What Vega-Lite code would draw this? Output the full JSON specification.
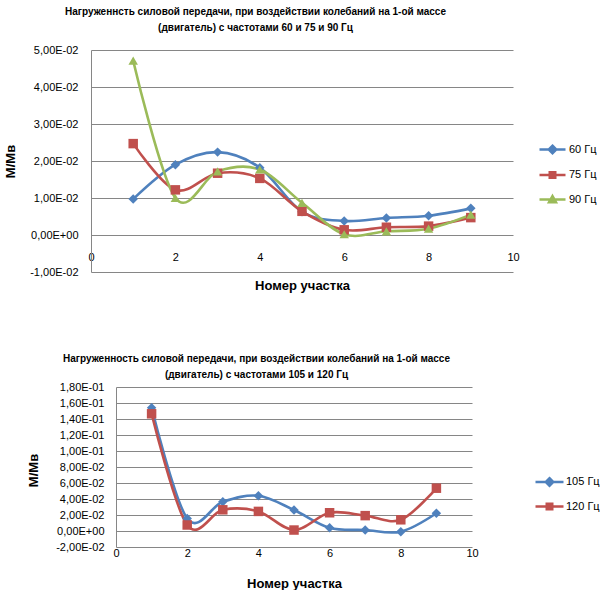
{
  "$schema": "https://vega.github.io/schema/vega-lite/v6.json",
  "background": "white",
  "padding": {"left": 4, "top": 7, "right": 0, "bottom": 0},
  "config": {
    "view": {"stroke": null},
    "font": "Liberation Sans",
    "axis": {
      "labelFont": "Liberation Sans",
      "labelFontSize": 11,
      "labelColor": "#000000",
      "titleFont": "Liberation Sans",
      "titleFontSize": 13,
      "titleFontWeight": "bold",
      "titleColor": "#000000",
      "ticks": false,
      "gridColor": "#868686",
      "gridWidth": 1,
      "gridOpacity": 1,
      "domainColor": "#868686",
      "domainWidth": 1,
      "labelFlush": false
    },
    "legend": {
      "labelFont": "Liberation Sans",
      "labelFontSize": 11,
      "labelColor": "#000000",
      "padding": 0
    },
    "title": {
      "font": "Liberation Sans",
      "fontSize": 10,
      "fontWeight": "bold",
      "color": "#000000",
      "lineHeight": 15.5,
      "anchor": "middle"
    }
  },
  "datasets": {
    "top": [
      {"n": 1, "s": "60 Гц", "v": 0.0097}, {"n": 2, "s": "60 Гц", "v": 0.0190}, {"n": 3, "s": "60 Гц", "v": 0.0224},
      {"n": 4, "s": "60 Гц", "v": 0.0182}, {"n": 5, "s": "60 Гц", "v": 0.0063}, {"n": 6, "s": "60 Гц", "v": 0.0038},
      {"n": 7, "s": "60 Гц", "v": 0.0046}, {"n": 8, "s": "60 Гц", "v": 0.0052}, {"n": 9, "s": "60 Гц", "v": 0.0072},
      {"n": 1, "s": "75 Гц", "v": 0.0247}, {"n": 2, "s": "75 Гц", "v": 0.0122}, {"n": 3, "s": "75 Гц", "v": 0.0167},
      {"n": 4, "s": "75 Гц", "v": 0.0153}, {"n": 5, "s": "75 Гц", "v": 0.0064}, {"n": 6, "s": "75 Гц", "v": 0.0014},
      {"n": 7, "s": "75 Гц", "v": 0.0021}, {"n": 8, "s": "75 Гц", "v": 0.0024}, {"n": 9, "s": "75 Гц", "v": 0.0047},
      {"n": 1, "s": "90 Гц", "v": 0.0471}, {"n": 2, "s": "90 Гц", "v": 0.0100}, {"n": 3, "s": "90 Гц", "v": 0.0172},
      {"n": 4, "s": "90 Гц", "v": 0.0177}, {"n": 5, "s": "90 Гц", "v": 0.0087}, {"n": 6, "s": "90 Гц", "v": 0.0002},
      {"n": 7, "s": "90 Гц", "v": 0.0010}, {"n": 8, "s": "90 Гц", "v": 0.0017}, {"n": 9, "s": "90 Гц", "v": 0.0055}
    ],
    "bottom": [
      {"n": 1, "s": "105 Гц", "v": 0.1540}, {"n": 2, "s": "105 Гц", "v": 0.0157}, {"n": 3, "s": "105 Гц", "v": 0.0365},
      {"n": 4, "s": "105 Гц", "v": 0.0440}, {"n": 5, "s": "105 Гц", "v": 0.0262}, {"n": 6, "s": "105 Гц", "v": 0.0040},
      {"n": 7, "s": "105 Гц", "v": 0.0012}, {"n": 8, "s": "105 Гц", "v": -0.0008}, {"n": 9, "s": "105 Гц", "v": 0.0222},
      {"n": 1, "s": "120 Гц", "v": 0.1465}, {"n": 2, "s": "120 Гц", "v": 0.0075}, {"n": 3, "s": "120 Гц", "v": 0.0265},
      {"n": 4, "s": "120 Гц", "v": 0.0245}, {"n": 5, "s": "120 Гц", "v": 0.0012}, {"n": 6, "s": "120 Гц", "v": 0.0228},
      {"n": 7, "s": "120 Гц", "v": 0.0192}, {"n": 8, "s": "120 Гц", "v": 0.0140}, {"n": 9, "s": "120 Гц", "v": 0.0535}
    ]
  },
  "columns": 1,
  "align": "all",
  "center": true,
  "spacing": 62,
  "resolve": {"scale": {"color": "independent"}},
  "concat": [
    {
      "width": 422,
      "height": 222,
      "title": {
        "text": ["Нагруженнсть силовой передачи, при воздействии  колебаний на 1-ой массе", "(двигатель) с частотами  60 и 75 и 90 Гц"],
        "frame": "group",
        "dx": -46.5,
        "offset": 11.5
      },
      "data": {"name": "top"},
      "encoding": {
        "x": {
          "field": "n", "type": "quantitative",
          "scale": {"domain": [0, 10], "nice": false},
          "axis": {"values": [0, 2, 4, 6, 8, 10], "title": "Номер участка", "domain": false, "grid": false,
                   "labelPadding": -21, "titleY": 13, "titleBaseline": "middle"}
        },
        "y": {
          "field": "v", "type": "quantitative",
          "scale": {"domain": [-0.01, 0.05], "nice": false, "zero": false},
          "axis": {
            "values": [-0.01, 0, 0.01, 0.02, 0.03, 0.04, 0.05],
            "labelExpr": "datum.value == 0 ? '0,00E+00' : (datum.value < 0 ? '-' : '') + replace(format(abs(datum.value) / pow(10, floor(log(abs(datum.value)) / LN10 + 0.000000001)), '.2f'), '.', ',') + 'E' + (floor(log(abs(datum.value)) / LN10 + 0.000000001) < 0 ? '-' : '+') + (abs(floor(log(abs(datum.value)) / LN10 + 0.000000001)) < 10 ? '0' : '') + abs(floor(log(abs(datum.value)) / LN10 + 0.000000001))",
            "title": "M/Mв", "grid": true, "labelPadding": 13,
            "titleAngle": 270, "titleX": -73.5, "titleY": 111, "titleBaseline": "bottom", "titleAlign": "center"
          }
        },
        "color": {
          "field": "s", "type": "nominal",
          "scale": {"domain": ["60 Гц", "75 Гц", "90 Гц"], "range": ["#4F81BD", "#C0504D", "#9BBB59"]},
          "legend": {
            "title": null, "orient": "none", "legendX": 455, "legendY": 93,
            "symbolSize": 100, "labelOffset": 10, "rowPadding": 7.5,
            "encode": {
              "symbols": {
                "update": {
                  "shape": {"signal": "datum.value === '60 Гц' ? 'M-2.6,0H2.6M0,-0.75L0.75,0L0,0.75L-0.75,0ZM13.4,0' : datum.value === '75 Гц' ? 'M-2.6,0H2.6M-0.55,-0.55H0.55V0.55H-0.55ZM13.4,0' : 'M-2.6,0H2.6M0,-0.7L0.7,0.55H-0.7ZM13.4,0'"},
                  "fill": {"signal": "datum.value === '60 Гц' ? '#4F81BD' : datum.value === '75 Гц' ? '#C0504D' : '#9BBB59'"},
                  "stroke": {"signal": "datum.value === '60 Гц' ? '#4F81BD' : datum.value === '75 Гц' ? '#C0504D' : '#9BBB59'"},
                  "strokeWidth": {"value": 2.5},
                  "opacity": {"value": 1},
                  "fillOpacity": {"value": 1},
                  "strokeOpacity": {"value": 1}
                }
              }
            }
          }
        }
      },
      "layer": [
        {"mark": {"type": "line", "interpolate": "cardinal", "strokeWidth": 2.6}},
        {"transform": [{"filter": "datum.s === '60 Гц'"}], "mark": {"type": "point", "filled": true, "opacity": 1, "size": 90, "shape": "diamond"}},
        {"transform": [{"filter": "datum.s === '75 Гц'"}], "mark": {"type": "point", "filled": true, "opacity": 1, "size": 90, "shape": "square"}},
        {"transform": [{"filter": "datum.s === '90 Гц'"}], "mark": {"type": "point", "filled": true, "opacity": 1, "size": 90, "shape": "triangle-up"}}
      ]
    },
    {
      "width": 356,
      "height": 160,
      "title": {
        "text": ["Нагруженность силовой передачи, при воздействии  колебаний на 1-ой массе", "(двигатель) с частотами  105 и 120 Гц"],
        "frame": "group",
        "dx": -37.5,
        "offset": 1.5
      },
      "data": {"name": "bottom"},
      "encoding": {
        "x": {
          "field": "n", "type": "quantitative",
          "scale": {"domain": [0, 10], "nice": false},
          "axis": {"values": [0, 2, 4, 6, 8, 10], "title": "Номер участка", "domain": false, "grid": false,
                   "labelPadding": 0, "titleY": 36, "titleBaseline": "middle"}
        },
        "y": {
          "field": "v", "type": "quantitative",
          "scale": {"domain": [-0.02, 0.18], "nice": false, "zero": false},
          "axis": {
            "values": [-0.02, 0, 0.02, 0.04, 0.06, 0.08, 0.1, 0.12, 0.14, 0.16, 0.18],
            "labelExpr": "datum.value == 0 ? '0,00E+00' : (datum.value < 0 ? '-' : '') + replace(format(abs(datum.value) / pow(10, floor(log(abs(datum.value)) / LN10 + 0.000000001)), '.2f'), '.', ',') + 'E' + (floor(log(abs(datum.value)) / LN10 + 0.000000001) < 0 ? '-' : '+') + (abs(floor(log(abs(datum.value)) / LN10 + 0.000000001)) < 10 ? '0' : '') + abs(floor(log(abs(datum.value)) / LN10 + 0.000000001))",
            "title": "M/Mв", "grid": true, "labelPadding": 12,
            "titleAngle": 270, "titleX": -75.5, "titleY": 83, "titleBaseline": "bottom", "titleAlign": "center"
          }
        },
        "color": {
          "field": "s", "type": "nominal",
          "scale": {"domain": ["105 Гц", "120 Гц"], "range": ["#4F81BD", "#C0504D"]},
          "legend": {
            "title": null, "orient": "none", "legendX": 427, "legendY": 88.5,
            "symbolSize": 100, "labelOffset": 10, "rowPadding": 6.5,
            "encode": {
              "symbols": {
                "update": {
                  "shape": {"signal": "datum.value === '105 Гц' ? 'M-2.8,0H2.8M0,-0.75L0.75,0L0,0.75L-0.75,0Z' : 'M-2.8,0H2.8M-0.55,-0.55H0.55V0.55H-0.55Z'"},
                  "fill": {"signal": "datum.value === '105 Гц' ? '#4F81BD' : '#C0504D'"},
                  "stroke": {"signal": "datum.value === '105 Гц' ? '#4F81BD' : '#C0504D'"},
                  "strokeWidth": {"value": 2.5},
                  "opacity": {"value": 1},
                  "fillOpacity": {"value": 1},
                  "strokeOpacity": {"value": 1}
                }
              }
            }
          }
        }
      },
      "layer": [
        {"mark": {"type": "line", "interpolate": "cardinal", "strokeWidth": 2.6}},
        {"transform": [{"filter": "datum.s === '105 Гц'"}], "mark": {"type": "point", "filled": true, "opacity": 1, "size": 90, "shape": "diamond"}},
        {"transform": [{"filter": "datum.s === '120 Гц'"}], "mark": {"type": "point", "filled": true, "opacity": 1, "size": 90, "shape": "square"}}
      ]
    }
  ]
}
